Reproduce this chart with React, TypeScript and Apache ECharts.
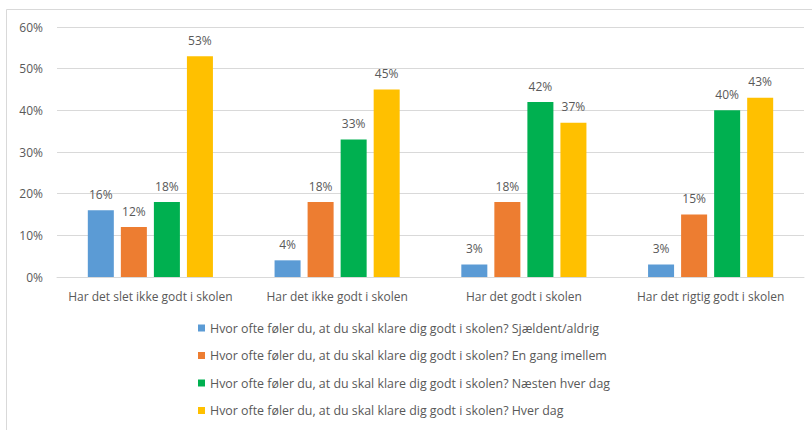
import React, { useEffect, useRef } from "react";
import * as echarts from "echarts";

const categories = [
  "Har det slet ikke godt i skolen",
  "Har det ikke godt i skolen",
  "Har det godt i skolen",
  "Har det rigtig godt i skolen",
];
const seriesNames = [
  "Hvor ofte føler du, at du skal klare dig godt i skolen? Sjældent/aldrig",
  "Hvor ofte føler du, at du skal klare dig godt i skolen? En gang imellem",
  "Hvor ofte føler du, at du skal klare dig godt i skolen? Næsten hver dag",
  "Hvor ofte føler du, at du skal klare dig godt i skolen? Hver dag",
];
const seldenValues = [16, 4, 3, 3];
const sometimesValues = [12, 18, 18, 15];
const almostDailyValues = [18, 33, 42, 40];
const dailyValues = [53, 45, 37, 43];
const colors = ["#5B9BD5", "#ED7D31", "#00B050", "#FFC000"];

const FONT = "'Open Sans', 'Liberation Sans', sans-serif";

export default function App() {
  const ref = useRef<HTMLDivElement>(null);
  useEffect(() => {
    if (!ref.current) return;
    const chart = echarts.init(ref.current, undefined, { renderer: "svg" });
    const allValues = [seldenValues, sometimesValues, almostDailyValues, dailyValues];
    chart.setOption({
      animation: false,
      backgroundColor: "#ffffff",
      grid: { left: 57, right: 8, top: 27, bottom: 153, containLabel: false },
      xAxis: {
        type: "category",
        data: categories,
        axisLine: { lineStyle: { color: "#D9D9D9", width: 1 } },
        axisTick: { show: false },
        axisLabel: {
          color: "#595959",
          fontSize: 12,
          fontFamily: FONT,
          margin: 13,
          interval: 0,
          hideOverlap: false,
        },
      },
      yAxis: {
        type: "value",
        min: 0,
        max: 60,
        interval: 10,
        axisLine: { show: false },
        axisTick: { show: false },
        splitLine: { lineStyle: { color: "#D9D9D9", width: 1 } },
        axisLabel: {
          color: "#595959",
          fontSize: 12,
          fontFamily: FONT,
          margin: 14,
          formatter: (v: number) => v + "%",
        },
      },
      legend: {
        orient: "vertical",
        left: 193,
        top: 317,
        itemWidth: 7,
        itemHeight: 7,
        itemGap: 15.5,
        icon: "rect",
        textStyle: { color: "#595959", fontSize: 12.4, fontFamily: FONT },
        data: seriesNames,
      },
      graphic: [
        {
          type: "line",
          shape: { x1: 6.5, y1: 9.5, x2: 812, y2: 9.5 },
          style: { stroke: "#D9D9D9", lineWidth: 1 },
        },
        {
          type: "line",
          shape: { x1: 6.5, y1: 9.5, x2: 6.5, y2: 430 },
          style: { stroke: "#D9D9D9", lineWidth: 1 },
        },
      ],
      series: seriesNames.map((name, i) => ({
        name,
        type: "bar",
        data: allValues[i],
        barGap: "27%",
        barCategoryGap: "33%",
        itemStyle: { color: colors[i] },
        label: {
          show: true,
          position: "top",
          distance: 10,
          color: "#595959",
          fontSize: 12,
          fontFamily: FONT,
          formatter: (p: any) => p.value + "%",
        },
      })),
    });
    return () => chart.dispose();
  }, []);
  return (
    <div
      ref={ref}
      style={{ position: "fixed", left: 0, top: 0, width: 812, height: 430 }}
    />
  );
}
